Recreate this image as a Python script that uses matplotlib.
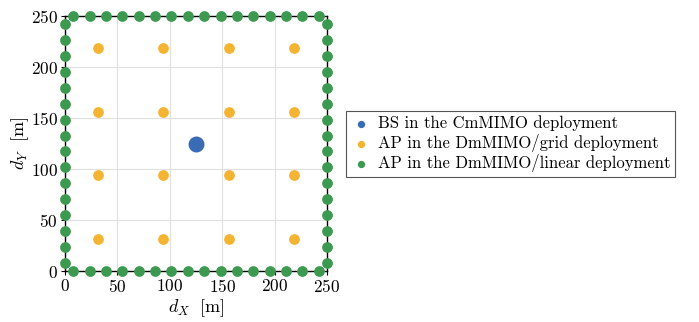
import matplotlib
matplotlib.use('Agg')
import matplotlib.pyplot as plt

plt.rcParams['font.family'] = 'serif'
plt.rcParams['font.serif'] = ['cmr10']
plt.rcParams['mathtext.fontset'] = 'cm'
plt.rcParams['axes.formatter.use_mathtext'] = True
plt.rcParams['axes.unicode_minus'] = False

# Data
side = 250
bs_x = [125]
bs_y = [125]
grid_pos = [31.25, 93.75, 156.25, 218.75]
edge_pos = [7.8, 23.4, 39.1, 54.7, 70.3, 85.9, 101.6, 117.2,
            132.8, 148.4, 164.1, 179.7, 195.3, 210.9, 226.6, 242.2]
ticks = [0, 50, 100, 150, 200, 250]
labels = ['BS in the CmMIMO deployment',
          'AP in the DmMIMO/grid deployment',
          'AP in the DmMIMO/linear deployment']

c_blue = '#3a6bb5'
c_orange = '#f4b331'
c_green = '#3c9a50'

ax_x = [gx for gx in grid_pos for gy in grid_pos]
ax_y = [gy for gx in grid_pos for gy in grid_pos]

lin_x = edge_pos + edge_pos + [0] * len(edge_pos) + [side] * len(edge_pos)
lin_y = [0] * len(edge_pos) + [side] * len(edge_pos) + edge_pos + edge_pos

fig = plt.figure(figsize=(6.99, 3.22), dpi=100)
ax = fig.add_axes([65 / 699, 51 / 322, 262 / 699, 255 / 322])

ax.scatter(bs_x, bs_y, s=110, color=c_blue, zorder=3, clip_on=False, label=labels[0])
ax.scatter(ax_x, ax_y, s=45, color=c_orange, zorder=3, clip_on=False, label=labels[1])
ax.scatter(lin_x, lin_y, s=45, color=c_green, zorder=4, clip_on=False, label=labels[2])

ax.set_xlim(0, side)
ax.set_ylim(0, side)
ax.set_xticks(ticks)
ax.set_yticks(ticks)
ax.grid(True, color='#e0e0e0', linewidth=0.8)
ax.set_axisbelow(True)
for s in ax.spines.values():
    s.set_color('black')
    s.set_linewidth(1.0)
ax.tick_params(labelsize=12.5, length=3, width=0.8, pad=2)
ax.set_xlabel(r'$d_X\ \ [\mathrm{m}]$', fontsize=13, labelpad=2)
ax.set_ylabel(r'$d_Y\ \ [\mathrm{m}]$', fontsize=13, labelpad=0)

leg = fig.legend(loc='center left', bbox_to_anchor=(346 / 699, (322 - 144) / 322),
                 fontsize=12, markerscale=0.45, handletextpad=0.4,
                 borderpad=0.3, labelspacing=0.15, fancybox=False,
                 edgecolor='#555555', framealpha=1, scatterpoints=1,
                 handlelength=1.2, borderaxespad=0)
leg.get_frame().set_linewidth(0.8)
for h in leg.legend_handles:
    h.set_sizes([18])

fig.savefig('out.png', dpi=100)
